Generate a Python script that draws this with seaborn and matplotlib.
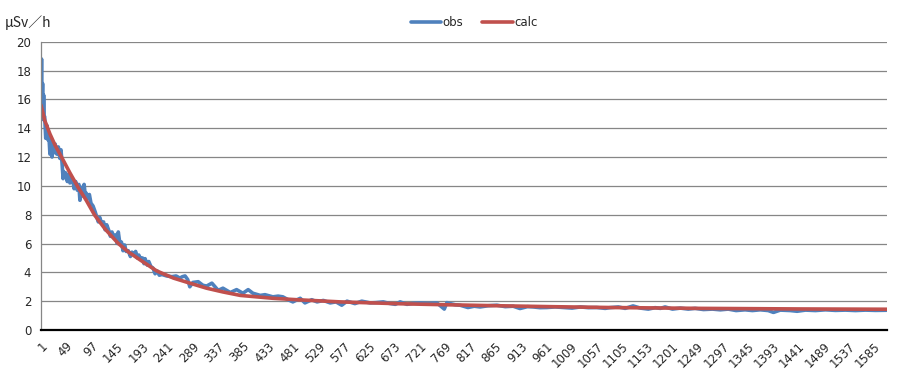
import matplotlib
matplotlib.use("Agg")
import matplotlib.pyplot as plt
import seaborn as sns
import pandas as pd

obs_idx = [1, 2, 3, 4, 5, 6, 7, 8, 10, 12, 14, 16, 18, 20, 22, 24, 26, 28, 31, 34,
           37, 39, 41, 43, 44, 46, 48, 51, 54, 56, 58, 61, 64, 67, 70, 73, 75, 78, 80, 83,
           85, 87, 90, 93, 96, 100, 104, 107, 110, 113, 116, 120, 123, 126, 130, 133, 136, 140, 143, 146,
           148, 151, 154, 157, 160, 163, 167, 171, 174, 178, 181, 184, 187, 191, 194, 197, 199, 203, 206, 210,
           214, 218, 222, 226, 231, 240, 250, 258, 265, 270, 275, 280, 284, 290, 300, 309, 316, 326, 338, 347,
           361, 373, 385, 395, 404, 418, 427, 442, 452, 461, 471, 480, 494, 503, 516, 526, 538, 551, 562, 573,
           583, 598, 611, 627, 638, 652, 663, 675, 684, 697, 709, 722, 737, 754, 768, 773, 779, 789, 798, 813,
           825, 836, 851, 868, 884, 899, 912, 926, 937, 950, 963, 979, 994, 1011, 1027, 1042, 1058, 1074, 1083, 1099,
           1112, 1127, 1141, 1156, 1169, 1179, 1188, 1202, 1217, 1232, 1245, 1261, 1278, 1293, 1308, 1323, 1340, 1354, 1369, 1384,
           1394, 1407, 1426, 1439, 1455, 1474, 1493, 1512, 1531, 1550, 1569, 1588, 1609]
obs_val = [16.0, 18.8, 15.5, 17.1, 14.6, 16.3, 14.8, 14.8, 13.3, 14.2, 13.2, 13.5, 12.2, 13.1, 12.0, 12.8, 12.3, 12.9, 12.2, 12.7,
           11.9, 12.5, 11.6, 10.5, 11.0, 10.6, 10.9, 10.3, 10.8, 10.2, 10.6, 10.5, 9.8, 10.3, 9.7, 10.1, 9.0, 9.9, 9.3, 10.1,
           9.4, 9.5, 9.1, 9.4, 8.8, 8.6, 8.2, 7.85, 7.5, 7.8, 7.4, 7.5, 6.95, 7.3, 6.9, 6.5, 6.8, 6.4, 6.6, 6.0,
           6.8, 6.0, 6.1, 5.5, 5.9, 5.45, 5.5, 5.1, 5.4, 5.2, 5.45, 5.0, 5.2, 4.9, 5.0, 4.6, 4.95, 4.5, 4.75, 4.4,
           4.3, 3.9, 4.1, 3.8, 3.85, 3.75, 3.7, 3.75, 3.6, 3.7, 3.75, 3.5, 3.0, 3.3, 3.35, 3.1, 3.05, 3.25, 2.75, 2.9,
           2.6, 2.8, 2.55, 2.8, 2.55, 2.4, 2.45, 2.3, 2.35, 2.3, 2.1, 1.95, 2.2, 1.88, 2.1, 1.95, 2.05, 1.88, 1.95, 1.72,
           2.0, 1.83, 2.0, 1.88, 1.9, 1.95, 1.85, 1.78, 1.95, 1.78, 1.85, 1.88, 1.85, 1.88, 1.45, 1.9, 1.83, 1.75, 1.72, 1.56,
           1.65, 1.6, 1.68, 1.72, 1.62, 1.65, 1.49, 1.62, 1.6, 1.55, 1.56, 1.6, 1.56, 1.52, 1.6, 1.55, 1.56, 1.5, 1.55, 1.6,
           1.5, 1.67, 1.52, 1.45, 1.55, 1.5, 1.6, 1.45, 1.52, 1.45, 1.5, 1.42, 1.45, 1.4, 1.45, 1.35, 1.4, 1.35, 1.4, 1.35,
           1.22, 1.38, 1.35, 1.3, 1.38, 1.35, 1.4, 1.36, 1.38, 1.35, 1.38, 1.36, 1.37]

# calculated decay curve
calc_idx = [1, 8, 18, 28, 40, 56, 71, 87, 103, 123, 148, 167, 190, 221, 253, 285, 316, 347, 380, 411,
            442, 488, 570, 684, 773, 874, 969, 1083, 1255, 1445, 1610]
calc_val = [15.6, 14.55, 13.6, 12.8, 12.0, 10.9, 9.93, 9.0, 7.97, 7.0, 6.0, 5.42, 4.85, 4.1, 3.6, 3.24, 2.9, 2.64, 2.4, 2.3,
            2.2, 2.1, 1.95, 1.82, 1.75, 1.68, 1.62, 1.56, 1.5, 1.46, 1.44]

tick_labels = list(range(1, 1600, 48))

sns.set_theme(style="white")
plt.rcParams['font.family'] = ['DejaVu Sans']

fig = plt.figure(figsize=(9.04, 3.75), dpi=100)
ax = fig.add_axes([41 / 904, 1 - 330 / 375, 846 / 904, (330 - 41.7) / 375])

obs_df = pd.DataFrame({"idx": obs_idx, "val": obs_val})
calc_df = pd.DataFrame({"idx": calc_idx, "val": calc_val})
sns.lineplot(data=obs_df, x="idx", y="val", ax=ax, color="#4F81BD", linewidth=2.6,
             sort=False, estimator=None, label="obs")
sns.lineplot(data=calc_df, x="idx", y="val", ax=ax, color="#C0504D", linewidth=2.6,
             sort=False, estimator=None, label="calc")

ax.set_xlim(1, 1610)
ax.set_ylim(0, 20)
ax.set_yticks(range(0, 21, 2))
ax.set_xticks(tick_labels)
ax.set_xticklabels([str(t) for t in tick_labels], rotation=45, ha="right",
                   rotation_mode="anchor", fontsize=8.5)
ax.tick_params(axis="y", labelsize=8.5, length=4, color="#868686", direction="out", pad=3)
ax.tick_params(axis="x", length=4, width=1.3, color="black", direction="out", pad=3)
ax.set_xlabel("")
ax.set_ylabel("")
ax.grid(axis="y", color="#868686", linewidth=0.9)
ax.set_axisbelow(True)

for side in ["top", "right"]:
    ax.spines[side].set_visible(False)
ax.spines["left"].set_color("#868686")
ax.spines["left"].set_linewidth(0.9)
ax.spines["bottom"].set_color("black")
ax.spines["bottom"].set_linewidth(1.6)

ax.legend(loc="center", bbox_to_anchor=(474 / 904, 1 - 23 / 375), bbox_transform=fig.transFigure,
          ncol=2, frameon=False, fontsize=8.5, handlelength=2.6, columnspacing=1.6,
          handletextpad=0.1, borderaxespad=0)

fig.text(5 / 904, 1 - 23 / 375, "μSv／h", fontsize=10, va="center", ha="left",
         family=["Noto Sans CJK JP", "DejaVu Sans"])

fig.savefig("out.png", dpi=100)
plt.close(fig)
